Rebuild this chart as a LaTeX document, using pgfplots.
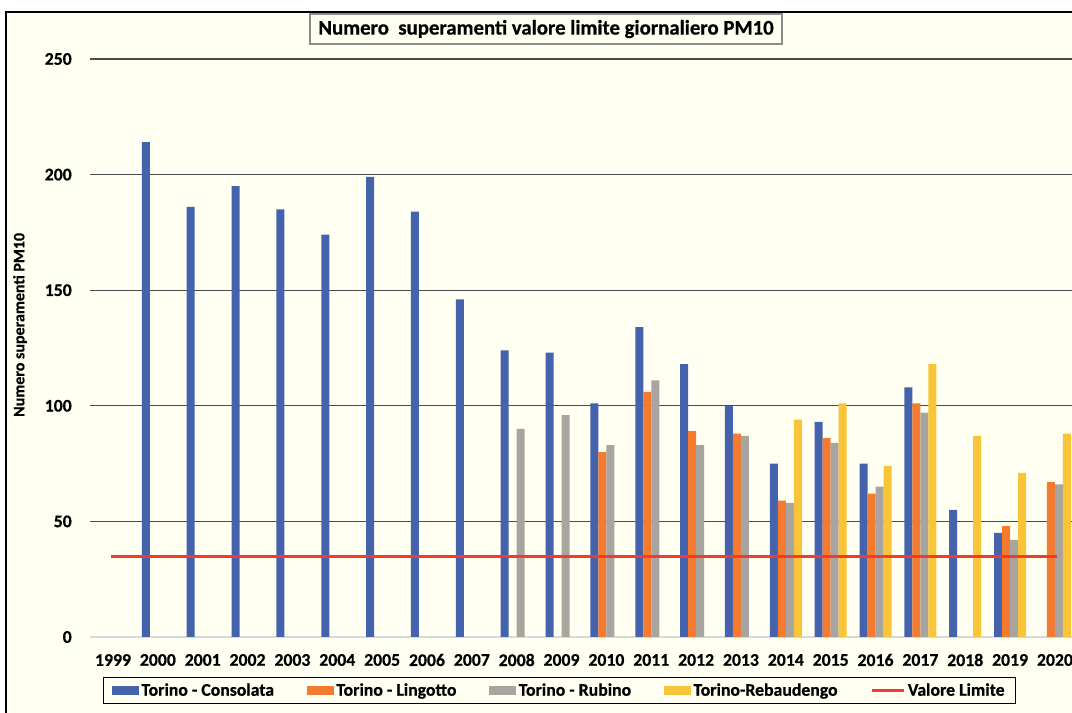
\documentclass[border=0pt]{standalone}
\usepackage{pgfplots}
\pgfplotsset{compat=1.18}
\usepackage{fontspec}
\setmainfont{Carlito}[BoldFeatures={FakeBold=0.6}]
\definecolor{cblue}{HTML}{4563AC}
\definecolor{corange}{HTML}{F47A30}
\definecolor{cgray}{HTML}{A8A5A0}
\definecolor{cyellow}{HTML}{FAC438}
\definecolor{cred}{HTML}{F43A2C}
\definecolor{cream}{HTML}{FFFFF2}
\definecolor{gridc}{HTML}{4A4A4A}
\definecolor{titlegray}{HTML}{8C8C8C}
\begin{document}
\begin{tikzpicture}[font=\bfseries\fontsize{13.3}{16}\selectfont]
\useasboundingbox (0,0) rectangle (804pt,534.75pt);
\fill[white] (0,0) rectangle (804pt,534.75pt);
\fill[cream] (4.5pt,0) rectangle (804pt,525.75pt);
\draw[line width=1.1pt] (4.5pt,-2pt) -- (4.5pt,525.75pt) -- (806pt,525.75pt);
\begin{axis}[
  at={(67.5pt,57pt)}, anchor=south west,
  scale only axis, width=736.5pt, height=433.5pt,
  xmin=-0.513, xmax=21.38, ymin=0, ymax=250,
  axis line style={draw=none}, major tick length=0pt,
  /pgf/number format/assume math mode=true,
  xtick={0,1,2,3,4,5,6,7,8,9,10,11,12,13,14,15,16,17,18,19,20,21},
  xticklabels={1999,2000,2001,2002,2003,2004,2005,2006,2007,2008,2009,2010,2011,2012,2013,2014,2015,2016,2017,2018,2019,2020},
  xticklabel style={anchor=center, inner sep=0pt, yshift=-17.25pt},
  ytick={50,100,150,200,250},
  extra y ticks={0},
  extra y tick style={grid style={draw=black!15, line width=0.9pt}},
  yticklabel style={anchor=east, inner sep=0pt, xshift=-13.5pt},
  ymajorgrids, grid style={draw=gridc, line width=0.9pt},
  title={Numero\ \ superamenti valore limite giornaliero PM10},
  title style={at={(axis description cs:0.4644,1.038)}, anchor=center, draw=titlegray, line width=1.3pt, minimum width=354pt, minimum height=22.5pt, inner sep=0pt, font=\bfseries\fontsize{15.6}{18}\selectfont},
  ylabel={Numero superamenti PM10},
  ylabel style={at={(axis description cs:-0.0713,0.540)}, anchor=center, font=\bfseries\fontsize{12}{14}\selectfont},
  legend columns=5,
  legend style={at={(axis description cs:0.4781,-0.0926)}, anchor=center, draw=black, line width=0.8pt, fill=cream, inner xsep=6pt, inner ysep=2.5pt, /tikz/every even column/.append style={column sep=22.5pt}, font=\bfseries\fontsize{13.3}{16}\selectfont},
]
\addplot[ybar, bar width=6pt, bar shift=-9pt, fill=cblue, draw=none,
  legend image code/.code={\fill[cblue] (0pt,-3.4pt) rectangle (20.25pt,3.4pt);}]
  coordinates {(1,214)(2,186)(3,195)(4,185)(5,174)(6,199)(7,184)(8,146)(9,124)(10,123)(11,101)(12,134)(13,118)(14,100)(15,75)(16,93)(17,75)(18,108)(19,55)(20,45)};
\addlegendentry{Torino - Consolata}
\addplot[ybar, bar width=6pt, bar shift=-3pt, fill=corange, draw=none,
  legend image code/.code={\fill[corange] (0pt,-3.4pt) rectangle (20.25pt,3.4pt);}]
  coordinates {(11,80)(12,106)(13,89)(14,88)(15,59)(16,86)(17,62)(18,101)(20,48)(21,67)};
\addlegendentry{Torino - Lingotto}
\addplot[ybar, bar width=6pt, bar shift=3pt, fill=cgray, draw=none,
  legend image code/.code={\fill[cgray] (0pt,-3.4pt) rectangle (20.25pt,3.4pt);}]
  coordinates {(9,90)(10,96)(11,83)(12,111)(13,83)(14,87)(15,58)(16,84)(17,65)(18,97)(20,42)(21,66)};
\addlegendentry{Torino - Rubino}
\addplot[ybar, bar width=6pt, bar shift=9pt, fill=cyellow, draw=none,
  legend image code/.code={\fill[cyellow] (0pt,-3.4pt) rectangle (20.25pt,3.4pt);}]
  coordinates {(15,94)(16,101)(17,74)(18,118)(19,87)(20,71)(21,88)};
\addlegendentry{Torino-Rebaudengo}
\addplot[cred, line width=2.25pt,
  legend image code/.code={\draw[cred, line width=2.25pt] (0pt,0pt) -- (24pt,0pt);}]
  coordinates {(-0.05,35)(21.05,35)};
\addlegendentry{Valore Limite}
\end{axis}
\end{tikzpicture}
\end{document}
